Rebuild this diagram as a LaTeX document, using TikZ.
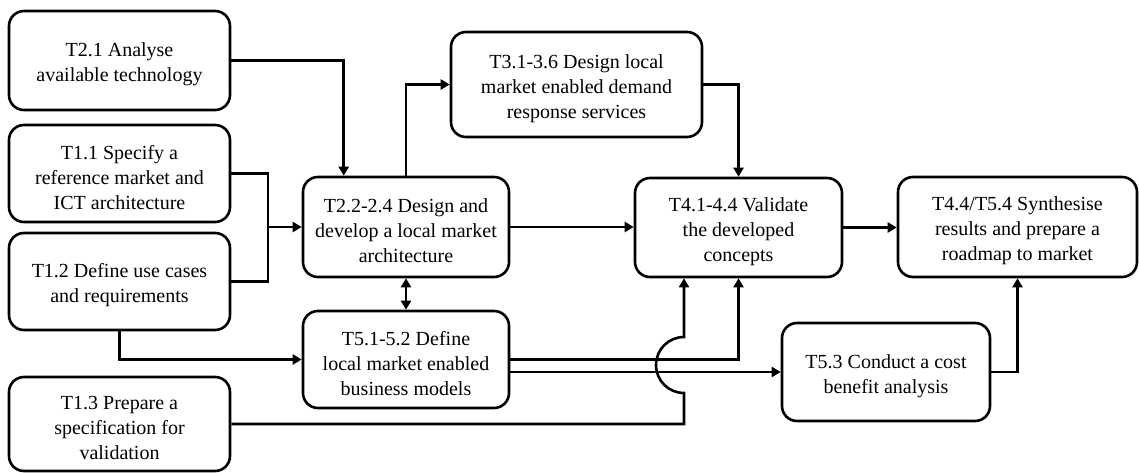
\documentclass[tikz,border=0pt]{standalone}
\usepackage{fontspec}
\setmainfont{Liberation Serif}
\usetikzlibrary{arrows.meta}
\newcommand\mybox[5]{%
  \node[box, minimum width=#3pt, minimum height=#4pt] (#1) at #2 {};
  \node[boxtext] (#1-t) at ([yshift=-4pt]#1.center) {#5};}
\begin{document}
\begin{tikzpicture}[x=1pt,y=-1pt,line width=2.6pt,
  box/.style={draw, rounded corners=15pt, inner sep=0pt},
  boxtext/.style={align=center, inner sep=0pt, font=\fontsize{20}{25}\selectfont},
  arr/.style={-{Triangle[length=9pt,width=10pt]}},
  arrs/.style={{Triangle[length=9pt,width=10pt]}-{Triangle[length=9pt,width=10pt]}}]
\useasboundingbox (0,0) rectangle (1139,473);
% boxes
\mybox{t21}{(119.5,60.5)}{221}{99}{T2.1 Analyse\\available technology}
\mybox{t11}{(119.5,173.5)}{221}{97}{T1.1 Specify a\\reference market and\\ICT architecture}
\mybox{t12}{(119.5,281.5)}{221}{97}{T1.2 Define use cases\\and requirements}
\mybox{t13}{(119.5,424)}{221}{94}{T1.3 Prepare a\\specification for\\validation}
\mybox{t22}{(406,227)}{206}{100}{T2.2-2.4 Design and\\develop a local market\\architecture}
\mybox{t51}{(406,359.5)}{206}{97}{T5.1-5.2 Define\\local market enabled\\business models}
\mybox{t31}{(576.5,84.5)}{251}{105}{T3.1-3.6 Design local\\market enabled demand\\response services}
\mybox{t41}{(738.5,227.5)}{207}{99}{T4.1-4.4 Validate\\the developed\\concepts}
\mybox{t44}{(1017.5,227)}{239}{100}{T4.4/T5.4 Synthesise\\results and prepare a\\roadmap to market}
\mybox{t53}{(886,372)}{208}{98}{T5.3 Conduct a cost\\benefit analysis}
% connectors
\draw[arr] (t21.east) -| ([xshift=42pt]t22.north west);
\coordinate (j1) at (268,227);
\draw (t11.east) -| (j1) |- (t12.east);
\draw[arr] (j1) -- (j1 -| t22.west);
\draw[arr] (t12.south) |- (t51.west);
\draw[arr] (t22.north) |- (t31.west);
\draw[arr] (t31.east) -| (t41.north);
\draw[arr] (t22.east) -- (t22.east -| t41.west);
\draw[arrs] (t22.south) -- (t51.north);
\draw[arr] (t41.east) -- (t41.east -| t44.west);
\draw[arr] (t51.east) -| (t41.south);
\draw[arr] (t51.east |- t53.west) -- (t53.west);
\coordinate (hb) at (684,393);
\coordinate (ht) at (684,337);
\draw[arr] (t13.east) -| (hb) .. controls (668.5,393) and (656,380.5) .. (656,365) .. controls (656,349.5) and (668.5,337) .. (ht) -- (ht |- t41.south);
\draw[arr] (t53.east) -| (t44.south);
\end{tikzpicture}
\end{document}
